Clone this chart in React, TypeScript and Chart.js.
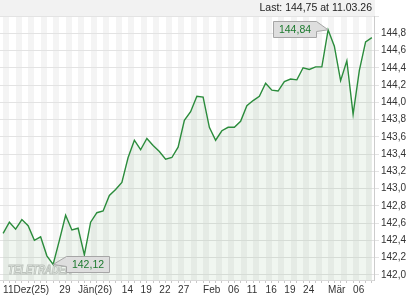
import { useEffect, useRef } from 'react';
import { Chart, registerables } from 'chart.js';

Chart.register(...registerables);

const categories = [
  '11.12.25', '12.12.25', '15.12.25', '16.12.25', '17.12.25', '18.12.25', '19.12.25', '22.12.25', '23.12.25', '29.12.25', '30.12.25',
  '02.01.26', '05.01.26', '06.01.26', '07.01.26', '08.01.26', '09.01.26', '12.01.26', '13.01.26', '14.01.26', '15.01.26', '16.01.26',
  '19.01.26', '20.01.26', '21.01.26', '22.01.26', '23.01.26', '26.01.26', '27.01.26', '28.01.26', '29.01.26', '30.01.26',
  '02.02.26', '03.02.26', '04.02.26', '05.02.26', '06.02.26', '09.02.26', '10.02.26', '11.02.26', '12.02.26', '13.02.26',
  '16.02.26', '17.02.26', '18.02.26', '19.02.26', '20.02.26', '23.02.26', '24.02.26', '25.02.26', '26.02.26', '27.02.26',
  '02.03.26', '03.03.26', '04.03.26', '05.03.26', '06.03.26', '09.03.26', '10.03.26', '11.03.26',
];

const values = [
  142.48, 142.61, 142.53, 142.64, 142.57, 142.40, 142.44, 142.22, 142.12, 142.40, 142.69,
  142.52, 142.54, 142.23, 142.61, 142.72, 142.74, 142.92, 142.99, 143.07, 143.36, 143.56,
  143.45, 143.58, 143.50, 143.43, 143.34, 143.36, 143.48, 143.79, 143.89, 144.07,
  144.06, 143.71, 143.56, 143.67, 143.71, 143.71, 143.78, 143.96, 144.02, 144.07,
  144.22, 144.14, 144.13, 144.24, 144.27, 144.26, 144.40, 144.38, 144.41, 144.41,
  144.84, 144.65, 144.25, 144.48, 143.86, 144.37, 144.70, 144.75,
];

const tickDates = ['11.12.25', '29.12.25', '05.01.26', '14.01.26', '19.01.26', '22.01.26', '27.01.26', '02.02.26', '06.02.26', '11.02.26', '16.02.26', '19.02.26', '24.02.26', '02.03.26', '06.03.26'];
const tickTexts = ['11Dez(25)', '29', 'Jän(26)', '14', '19', '22', '27', 'Feb', '06', '11', '16', '19', '24', 'Mär', '06'];

const yTicks = [142.0, 142.2, 142.4, 142.6, 142.8, 143.0, 143.2, 143.4, 143.6, 143.8, 144.0, 144.2, 144.4, 144.6, 144.8, 145.0];
const yLabelMax = 144.8;

const lastValue = 144.75;
const lastDate = '11.03.26';
const watermarkText = 'TELETRADER';

const FONT = '"Liberation Sans", Arial, sans-serif';
const fmt = (v: number, d: number) => v.toFixed(d).replace('.', ',');

function callout(ctx: CanvasRenderingContext2D, px: number, py: number, text: string, boxOnLeft: boolean) {
  const w = 43;
  const h = 16;
  const gap = 12.5;
  const top = Math.round(py - 8.5) + 0.5;
  const left = Math.round(boxOnLeft ? px - gap - w : px + gap) + 0.5;
  const right = left + w;
  ctx.save();
  ctx.beginPath();
  if (boxOnLeft) {
    ctx.moveTo(left, top);
    ctx.lineTo(right, top);
    ctx.lineTo(px, py);
    ctx.lineTo(right, top + 10);
    ctx.lineTo(right, top + h);
    ctx.lineTo(left, top + h);
  } else {
    ctx.moveTo(right, top);
    ctx.lineTo(right, top + h);
    ctx.lineTo(left, top + h);
    ctx.lineTo(left, top + 10);
    ctx.lineTo(px, py);
    ctx.lineTo(left, top);
  }
  ctx.closePath();
  ctx.fillStyle = '#dedede';
  ctx.fill();
  ctx.strokeStyle = '#a6a6a6';
  ctx.lineWidth = 1;
  ctx.stroke();
  ctx.fillStyle = '#1c7a2e';
  ctx.font = `10.5px ${FONT}`;
  ctx.textAlign = 'center';
  ctx.textBaseline = 'middle';
  ctx.fillText(text, left + w / 2, top + h / 2 + 0.5);
  ctx.restore();
}

const decor = {
  id: 'decor',
  beforeDraw(chart: any) {
    const { ctx, chartArea: a, scales } = chart;
    const x = scales.x;
    ctx.save();
    ctx.fillStyle = '#f2f2f2';
    ctx.fillRect(0, 0, a.right, a.top);
    ctx.fillStyle = '#f4f4f4';
    for (let i = 0; i + 1 < categories.length; i += 2) {
      const x0 = x.getPixelForValue(i);
      const x1 = x.getPixelForValue(i + 1);
      ctx.fillRect(Math.round(x0), a.top, Math.round(x1) - Math.round(x0), a.bottom - a.top);
    }
    ctx.fillStyle = '#222';
    ctx.font = `10.5px ${FONT}`;
    ctx.textAlign = 'right';
    ctx.textBaseline = 'middle';
    ctx.fillText(`Last: ${fmt(lastValue, 2)} at ${lastDate}`, a.right - 3, a.top / 2);
    ctx.restore();
  },
  beforeDatasetsDraw(chart: any) {
    const { ctx, chartArea: a } = chart;
    ctx.save();
    ctx.font = `italic bold 12px ${FONT}`;
    const tw = ctx.measureText(watermarkText).width;
    ctx.translate(a.left + 8, a.bottom - 6);
    ctx.scale(64 / tw, 1);
    ctx.fillStyle = '#fbfbfb';
    ctx.fillText(watermarkText, 0, 0);
    ctx.strokeStyle = '#c6c6c6';
    ctx.lineWidth = 1;
    ctx.strokeText(watermarkText, 0, 0);
    ctx.restore();
  },
  afterDatasetsDraw(chart: any) {
    const { ctx, scales } = chart;
    const iMax = values.indexOf(Math.max(...values));
    const iMin = values.indexOf(Math.min(...values));
    callout(ctx, scales.x.getPixelForValue(iMax), scales.y.getPixelForValue(values[iMax]), fmt(values[iMax], 2), true);
    callout(ctx, scales.x.getPixelForValue(iMin), scales.y.getPixelForValue(values[iMin]), fmt(values[iMin], 2), false);
  },
};

export default function App() {
  const ref = useRef<HTMLCanvasElement>(null);
  useEffect(() => {
    document.body.style.margin = '0';
    const canvas = ref.current!;
    const chart = new Chart(canvas, {
      type: 'line',
      data: {
        labels: categories,
        datasets: [
          {
            data: values,
            borderColor: '#2b8c3c',
            borderWidth: 1.4,
            fill: 'start',
            backgroundColor: 'rgba(60,140,60,0.08)',
            pointRadius: 0,
            tension: 0,
          },
        ],
      },
      options: {
        responsive: false,
        animation: false,
        devicePixelRatio: 1,
        layout: { padding: { top: 16, right: 12, left: 0, bottom: 3 } },
        plugins: { legend: { display: false }, tooltip: { enabled: false } },
        scales: {
          x: {
            type: 'category',
            offset: true,
            grid: { display: true, drawOnChartArea: false, drawTicks: true, tickLength: 3, color: '#c8c8c8', offset: false },
            border: { display: true, color: '#d9d9d9' },
            ticks: {
              autoSkip: false,
              maxRotation: 0,
              minRotation: 0,
              align: 'start',
              padding: 1,
              color: '#333',
              font: { family: FONT, size: 10 },
              callback: (_v: any, index: number) => {
                const k = tickDates.indexOf(categories[index]);
                return k >= 0 ? tickTexts[k] : '';
              },
            },
          },
          y: {
            type: 'linear',
            position: 'right',
            min: 141.94,
            max: 145.0,
            afterBuildTicks: (s: any) => {
              s.ticks = yTicks.map((v) => ({ value: v }));
            },
            grid: { color: '#e3e3e3', tickLength: 4, drawTicks: true },
            border: { color: '#cccccc' },
            ticks: {
              padding: 2,
              color: '#333',
              font: { family: FONT, size: 10 },
              callback: (v: any) => (Number(v) > yLabelMax + 0.01 ? '' : fmt(Number(v), 1)),
            },
          },
        },
      },
      plugins: [decor],
    } as any);
    return () => chart.destroy();
  }, []);
  return (
    <div style={{ position: 'absolute', left: 0, top: 0, width: 420, height: 300 }}>
      <canvas ref={ref} width={420} height={300} style={{ display: 'block' }} />
    </div>
  );
}
